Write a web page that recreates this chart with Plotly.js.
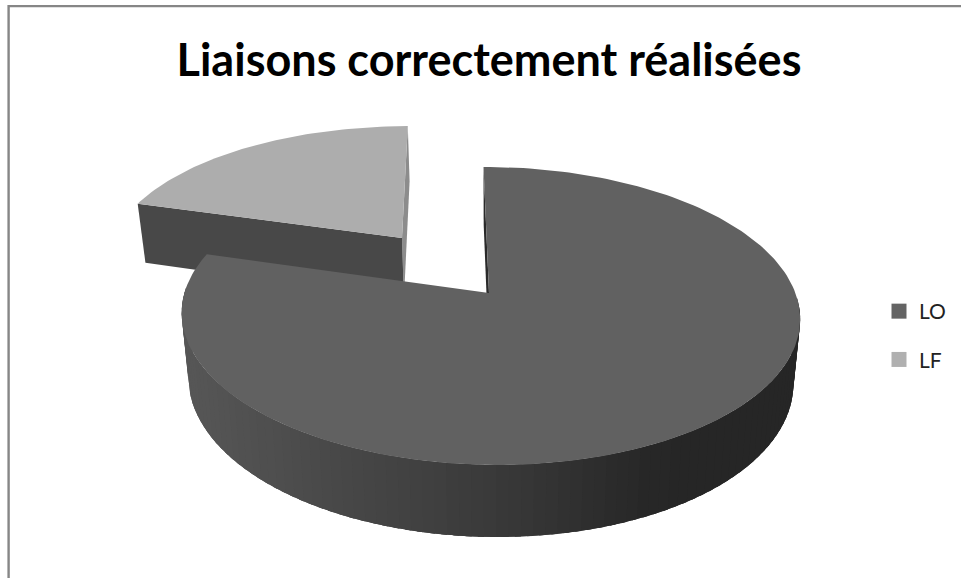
<!DOCTYPE html>
<html>
<head>
<meta charset="utf-8">
<script src="https://cdn.plot.ly/plotly-3.0.1.min.js"></script>
<style>html,body{margin:0;padding:0;background:#fff}</style>
</head>
<body>
<div id="chart" style="width:961px;height:578px"></div>
<script>
// DATA
const chartTitle = "Liaisons correctement réalisées";
const categories = ["LO", "LF"];
const shares = [79.5, 20.5];
const topColors = ["#616161", "#adadad"];
const legendColors = ["#646464", "#b0b0b0"];

// Projection of the tilted pie (perspective), in page pixels on hidden axes
const VIEW_X = 448;
const views = [
  {ax: 489, ay: 293, R: 305.5, S: 145.5, k: 0.154, j: -0.003},
  {ax: 402, ay: 238, R: 289, S: 128, k: 0.144, j: -0.003}
];
const rad = d => d * Math.PI / 180;
function rim(v, deg) {
  const X = Math.sin(rad(deg)), Y = Math.cos(rad(deg));
  const w = 1 + v.k * Y + v.j * X;
  return [v.ax + (v.R * X + (VIEW_X - v.ax) * v.k * Y) / w, v.ay - v.S * Y / w];
}
function drop(p) {
  return [p[0] + (490 - p[0]) * 0.022, p[1] + 49 + 0.0496 * p[1]];
}
function poly(pts, color) {
  return {
    type: "scatter", mode: "lines", fill: "toself", fillcolor: color,
    x: pts.map(p => p[0]), y: pts.map(p => p[1]),
    line: {color: color, width: 0}, showlegend: false, hoverinfo: "skip"
  };
}
function grey(v) { const c = Math.round(v); return "rgb(" + c + "," + c + "," + c + ")"; }
function wallShade(x) {
  const stops = [[189, 86], [490, 58], [650, 39], [700, 38], [800, 38]];
  if (x <= stops[0][0]) return grey(stops[0][1]);
  for (let i = 1; i < stops.length; i++) {
    if (x <= stops[i][0]) {
      const t = (x - stops[i-1][0]) / (stops[i][0] - stops[i-1][0]);
      return grey(stops[i-1][1] + t * (stops[i][1] - stops[i-1][1]));
    }
  }
  return grey(38);
}

const total = shares.reduce((a, b) => a + b, 0);
const loEnd = 360 * shares[0] / total;
function arc(v, a0, a1, n) {
  const out = [];
  for (let i = 0; i <= n; i++) out.push(rim(v, a0 + (a1 - a0) * i / n));
  return out;
}

const traces = [];

// LF slice (behind)
{
  const v = views[1];
  const apex = [v.ax, v.ay];
  const a = rim(v, loEnd), b = rim(v, 360);
  traces.push(poly([b, apex, drop(apex), drop(b)], "#8c8c8c"));
  traces.push(poly([a, apex, drop(apex), drop(a)], "#484848"));
  traces.push(poly([apex].concat(arc(v, loEnd, 360, 60)), topColors[1]));
}

// LO slice (front): wall painted in overlapping strips, so no seams show
{
  const v = views[0];
  const apex = [v.ax, v.ay];
  const o = rim(v, 0);
  traces.push(poly([o, apex, drop(apex), drop(o)], "#2a2a2a"));
  const N = 90, a0 = 92, a1 = 272, da = (a1 - a0) / N;
  for (let i = 0; i < N; i++) {
    const from = a0 + da * i, to = Math.min(a1, from + 2.5 * da);
    const strip = arc(v, from, to, 4);
    const shade = wallShade(rim(v, from + da / 2)[0]);
    traces.push(poly(strip.concat(strip.map(drop).reverse()), shade));
  }
  traces.push(poly([apex].concat(arc(v, 0, loEnd, 200)), topColors[0]));
}

// Legend entries
categories.forEach((c, i) => {
  traces.push({
    type: "scatter", mode: "markers", name: c, x: [null], y: [null], legendgroup: c,
    marker: {symbol: "square", size: 15, color: legendColors[i]}, hoverinfo: "skip"
  });
});

const layout = {
  width: 961, height: 578, autosize: false,
  margin: {l: 0, r: 0, t: 0, b: 0},
  paper_bgcolor: "#fff", plot_bgcolor: "#fff",
  hovermode: false,
  font: {family: "Lato, Carlito, sans-serif", color: "#222"},
  title: {
    text: "<b>" + chartTitle + "</b>",
    font: {family: "Lato, sans-serif", size: 45, color: "#000"},
    x: 489 / 961, xanchor: "center", xref: "paper",
    y: 1 - 60 / 578, yanchor: "middle", yref: "container"
  },
  xaxis: {range: [0, 961], visible: false, fixedrange: true},
  yaxis: {range: [578, 0], visible: false, fixedrange: true},
  shapes: [
    {type: "line", xref: "x", yref: "y", x0: 8.5, x1: 961, y0: 6.2, y1: 6.2, line: {color: "#868686", width: 2.2}},
    {type: "line", xref: "x", yref: "y", x0: 8.6, x1: 8.6, y0: 5, y1: 578, line: {color: "#868686", width: 2.4}}
  ],
  showlegend: true,
  legend: {
    x: 879 / 961, xanchor: "left", y: 1 - 291 / 578, yanchor: "top",
    bgcolor: "rgba(0,0,0,0)", borderwidth: 0, itemwidth: 30,
    tracegroupgap: 18, itemclick: false, itemdoubleclick: false,
    font: {family: "Lato, sans-serif", size: 21, color: "#222"}
  }
};
Plotly.newPlot("chart", traces, layout, {displayModeBar: false, staticPlot: true});
</script>
</body>
</html>
